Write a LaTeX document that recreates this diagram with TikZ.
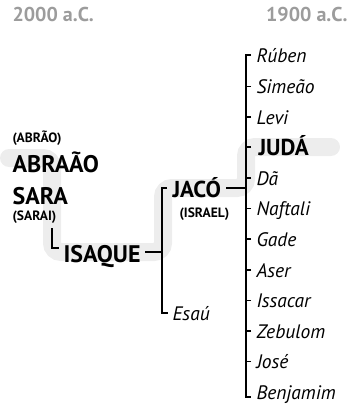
\documentclass[tikz,border=0pt]{standalone}
\usepackage{fontspec}
\setmainfont{PT Sans}
\usepackage{tikz}
\usetikzlibrary{positioning}
\definecolor{bandgray}{HTML}{EDEDED}
\definecolor{dategray}{HTML}{9C9C9C}

\begin{document}
\begin{tikzpicture}[x=1pt, y=-1pt, line width=1.1pt]
    % Styles
    \tikzstyle{date}=[inner sep=0pt, text=dategray, font=\fontsize{20}{20}\selectfont\bfseries]
    \tikzstyle{patriarch}=[inner ysep=0pt, inner xsep=4pt, text height=21pt, text depth=1pt, font=\fontsize{24}{24}\selectfont\bfseries]
    \tikzstyle{heir}=[inner ysep=0pt, inner xsep=5pt, text height=20pt, text depth=2pt, font=\fontsize{23}{23}\selectfont\bfseries]
    \tikzstyle{alias}=[inner sep=0pt, font=\fontsize{13.5}{13.5}\selectfont\bfseries]
    \tikzstyle{son}=[inner ysep=0pt, inner xsep=5pt, text height=16pt, text depth=2pt, font=\fontsize{19.5}{19.5}\selectfont\itshape]
    \tikzstyle{band}=[draw=bandgray, line width=18pt, rounded corners=9pt, line cap=round]

    \useasboundingbox (0,0) rectangle (353,404);

    % Highlighted line of descent
    \draw[band] (9,158) -- (52,158) -- (52,252) -- (163,252) -- (163,188) -- (246,188) -- (246,147) -- (331,147);

    % Dates
    \node (d2000) [date, anchor=base west] at (12,22) {2000 a.C.};
    \node (d1900) [date, anchor=base east] at (348,22) {1900 a.C.};

    % Abraão and Sara
    \node (abrao) [alias, anchor=base west] at (12,142) {(ABRÃO)};
    \node (abraao) [patriarch, inner xsep=0pt, anchor=base west] at (12,172) {ABRAÃO};
    \node (sara) [patriarch, inner xsep=0pt, anchor=base west] at (12,204.5) {SARA};
    \node (sarai) [alias, anchor=base west] at (12,220) {(SARAI)};
    \coordinate (abrspine) at (52,228);

    % Isaque
    \node (isaque) [patriarch, anchor=base west] at (59,262) {ISAQUE};
    \coordinate (isaspine) at (162,0);

    % Jacó and Esaú
    \node (jaco) [heir, anchor=base west] at (167,197) {JACÓ};
    \node (israel) [alias, anchor=base west] at (179,217.5) {(ISRAEL)};
    \node (esau) [son, inner xsep=4pt, anchor=base west] at (168,320) {Esaú};
    \coordinate (jacspine) at (246,0);

    % Sons of Jacó
    \node (ruben) [son, anchor=base west] at (251,63) {Rúben};
    \node (simeao) [son, anchor=base west] at (251,93.5) {Simeão};
    \node (levi) [son, anchor=base west] at (251,124) {Levi};
    \node (juda) [heir, inner xsep=7pt, text height=18pt, anchor=base west] at (251,155) {JUDÁ};
    \node (da) [son, anchor=base west] at (251,185) {Dã};
    \node (naftali) [son, anchor=base west] at (251,215.5) {Naftali};
    \node (gade) [son, anchor=base west] at (251,246) {Gade};
    \node (aser) [son, anchor=base west] at (251,277) {Aser};
    \node (issacar) [son, anchor=base west] at (251,307.5) {Issacar};
    \node (zebulom) [son, anchor=base west] at (251,338) {Zebulom};
    \node (jose) [son, anchor=base west] at (251,368.5) {José};
    \node (benjamim) [son, anchor=base west] at (251,399) {Benjamim};

    % Brackets
    \draw (abrspine) |- ([yshift=4pt]isaque.west);
    \draw (isaque.east) -- (isaque.east -| isaspine);
    \draw (jaco.west) -- (jaco.west -| isaspine) |- (esau.west);
    \draw (jaco.east) -- (jaco.east -| jacspine);
    \draw ([yshift=1pt]ruben.west) -- ([yshift=1pt]ruben.west -| jacspine) |- ([yshift=-5pt]benjamim.west);
    \draw (simeao.west) -- (simeao.west -| jacspine);
    \draw (levi.west) -- (levi.west -| jacspine);
    \draw (juda.west) -- (juda.west -| jacspine);
    \draw (da.west) -- (da.west -| jacspine);
    \draw (naftali.west) -- (naftali.west -| jacspine);
    \draw (gade.west) -- (gade.west -| jacspine);
    \draw (aser.west) -- (aser.west -| jacspine);
    \draw (issacar.west) -- (issacar.west -| jacspine);
    \draw (zebulom.west) -- (zebulom.west -| jacspine);
    \draw (jose.west) -- (jose.west -| jacspine);

\end{tikzpicture}
\end{document}
